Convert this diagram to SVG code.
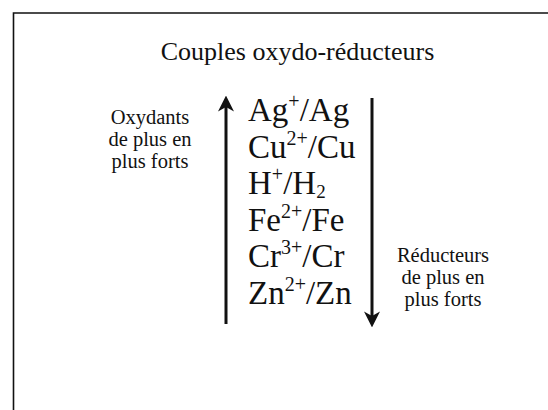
<svg xmlns="http://www.w3.org/2000/svg" width="548" height="410" viewBox="0 0 548 410">
<style>
.t{font-family:"Liberation Serif","Times New Roman",serif;fill:#111}
.title{font-size:26px}
.f{font-size:33px}
.sup{font-size:20px}
.sub{font-size:19px}
.lab{font-size:20.5px}
.arr{stroke:#111;stroke-width:3;fill:none}
</style>
<defs>
<marker id="ah" markerUnits="userSpaceOnUse" markerWidth="16" markerHeight="16" viewBox="0 0 14 14" refX="4" refY="7" orient="auto">
<path d="M0,0 L14,7 L0,14 L4,7 Z" fill="#111"/>
</marker>
</defs>
<rect width="548" height="410" fill="#fff"/>
<g id="frame">
<path d="M13.5,410 L13.5,13 L548,13" stroke="#111" stroke-width="1.6" fill="none"/>
</g>
<g id="title">
<text class="t title" x="297.5" y="60" text-anchor="middle">Couples oxydo-réducteurs</text>
</g>
<g id="couples">
<text class="t f" x="248" y="121">Ag<tspan class="sup" dy="-13">+</tspan><tspan dy="13">/Ag</tspan></text>
<text class="t f" x="248" y="157.5">Cu<tspan class="sup" dy="-13">2+</tspan><tspan dy="13">/Cu</tspan></text>
<text class="t f" x="248" y="194">H<tspan class="sup" dy="-13">+</tspan><tspan dy="13">/H</tspan><tspan class="sub" dy="4">2</tspan></text>
<text class="t f" x="248" y="230.5">Fe<tspan class="sup" dy="-13">2+</tspan><tspan dy="13">/Fe</tspan></text>
<text class="t f" x="248" y="267">Cr<tspan class="sup" dy="-13">3+</tspan><tspan dy="13">/Cr</tspan></text>
<text class="t f" x="248" y="303.5">Zn<tspan class="sup" dy="-13">2+</tspan><tspan dy="13">/Zn</tspan></text>
</g>
<g id="oxydants">
<text class="t lab" text-anchor="middle" x="150" y="124">Oxydants</text>
<text class="t lab" text-anchor="middle" x="150" y="146">de plus en</text>
<text class="t lab" text-anchor="middle" x="150" y="168">plus forts</text>
</g>
<g id="reducteurs">
<text class="t lab" text-anchor="middle" x="443" y="262">Réducteurs</text>
<text class="t lab" text-anchor="middle" x="443" y="284">de plus en</text>
<text class="t lab" text-anchor="middle" x="443" y="306">plus forts</text>
</g>
<g id="connectors">
<line class="arr" x1="226" y1="324" x2="226" y2="107" marker-end="url(#ah)"/>
<line class="arr" x1="372" y1="98" x2="372" y2="316" marker-end="url(#ah)"/>
</g>
</svg>
